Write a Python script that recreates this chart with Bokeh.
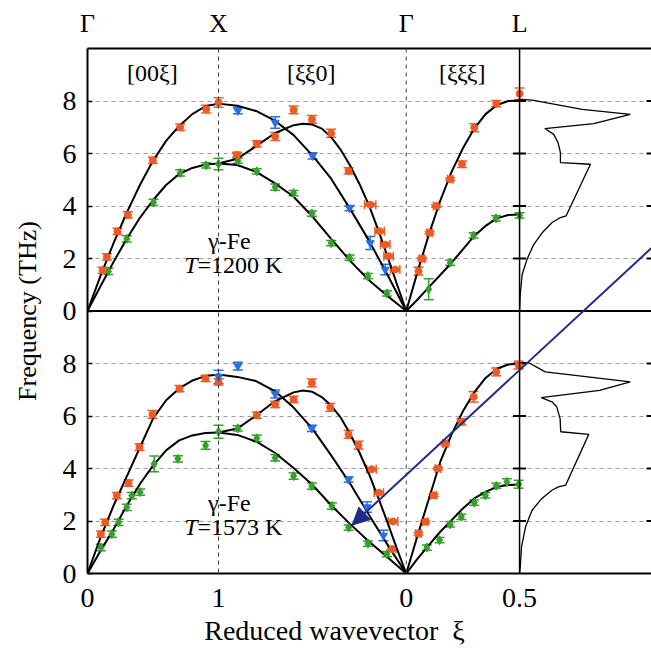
from bokeh.plotting import figure
from bokeh.models import (Range1d, FixedTicker, LinearAxis, ColumnDataSource,
                          Whisker, TeeHead, Span, Label, Arrow, NormalHead)
from bokeh.embed import file_html
from bokeh.resources import INLINE

# ---------------- data ----------------
# reduced-wavevector grids for the model curves
gx_xi = [0.0, 0.1, 0.2, 0.3, 0.4, 0.5, 0.6, 0.7, 0.8, 0.9, 1.0]            # [00ξ]  Γ -> X
kx_xi = [1.0, 0.9, 0.8, 0.7, 0.6, 0.5, 0.4, 0.3, 0.2, 0.1, 0.0]            # [ξξ0]  X -> Γ
kx_xi_fine = [1.0, 0.9, 0.8, 0.7, 0.6, 0.55, 0.5, 0.45, 0.4, 0.35, 0.3,
              0.25, 0.2, 0.15, 0.1, 0.05, 0.0]
gl_xi = [0.0, 0.05, 0.1, 0.15, 0.2, 0.25, 0.3, 0.35, 0.4, 0.45, 0.5]       # [ξξξ] Γ -> L

# ---- T = 1200 K : model curves (THz)
c1200_gx_LA = [0, 1.35, 2.6, 3.75, 4.8, 5.72, 6.48, 7.05, 7.5, 7.8, 7.9]
c1200_gx_TA = [0, 0.95, 1.88, 2.75, 3.55, 4.22, 4.8, 5.22, 5.45, 5.58, 5.62]
c1200_kx_T1 = [7.9, 7.82, 7.62, 7.25, 6.7, 5.93, 5.04, 3.9, 2.7, 1.38, 0]
c1200_kx_L = [5.62, 5.8, 6.28, 6.77, 7.08, 7.13, 7.1, 6.95, 6.62, 6.15, 5.55,
              4.85, 4.05, 3.1, 2.08, 1.03, 0]
c1200_kx_T2 = [5.62, 5.56, 5.3, 4.87, 4.35, 3.6, 2.75, 1.92, 1.18, 0.57, 0]
c1200_gl_LA = [0, 1.5, 2.92, 4.2, 5.3, 6.2, 6.95, 7.5, 7.85, 8.0, 8.02]
c1200_gl_TA = [0, 0.44, 0.91, 1.37, 1.84, 2.35, 2.86, 3.24, 3.53, 3.66, 3.68]

# ---- T = 1200 K : measured points (xi, frequency, freq. error, xi error)
p1200_gx_or_xi = [0.115, 0.148, 0.229, 0.308, 0.499, 0.707, 0.906, 1.0]
p1200_gx_or_f = [1.55, 2.06, 3.03, 3.66, 5.74, 7.00, 7.69, 7.94]
p1200_gx_or_e = [0.12, 0.12, 0.12, 0.12, 0.12, 0.12, 0.15, 0.18]
p1200_gx_gr_xi = [0.16, 0.30, 0.504, 0.707, 0.906, 1.0]
p1200_gx_gr_f = [1.51, 2.75, 4.14, 5.26, 5.55, 5.60]
p1200_gx_gr_e = [0.12, 0.12, 0.12, 0.12, 0.10, 0.22]

p1200_kx_or_xi = [0.902, 0.796, 0.698, 0.600, 0.502, 0.400, 0.307, 0.192, 0.142, 0.112, 0.094, 0.059]
p1200_kx_or_f = [5.95, 6.37, 6.65, 7.66, 7.30, 6.77, 5.34, 4.05, 3.04, 2.53, 2.09, 1.58]
p1200_kx_or_e = [0.10, 0.12, 0.15, 0.15, 0.15, 0.15, 0.12, 0.05, 0.05, 0.05, 0.05, 0.05]
p1200_kx_or_xe = [0, 0, 0, 0, 0, 0, 0, 0.03, 0.025, 0.025, 0.025, 0.025]
p1200_kx_bl_xi = [0.897, 0.698, 0.499, 0.302, 0.192, 0.112]
p1200_kx_bl_f = [7.63, 7.18, 5.91, 3.92, 2.59, 1.58]
p1200_kx_bl_e = [0.12, 0.22, 0.12, 0.10, 0.25, 0.20]
p1200_kx_gr_xi = [0.897, 0.796, 0.698, 0.600, 0.502, 0.400, 0.302, 0.204, 0.103]
p1200_kx_gr_f = [5.73, 5.32, 4.72, 4.49, 3.71, 2.59, 2.03, 1.33, 0.67]
p1200_kx_gr_e = [0.10, 0.10, 0.12, 0.10, 0.10, 0.10, 0.10, 0.10, 0.10]

p1200_gl_or_xi = [0.054, 0.069, 0.103, 0.132, 0.194, 0.246, 0.300, 0.397, 0.500]
p1200_gl_or_f = [1.52, 1.99, 2.98, 4.00, 5.02, 5.59, 6.98, 7.90, 8.28]
p1200_gl_or_e = [0.15, 0.05, 0.05, 0.05, 0.05, 0.12, 0.15, 0.12, 0.22]
p1200_gl_or_xe = [0, 0.012, 0.012, 0.012, 0.012, 0, 0, 0, 0]
p1200_gl_gr_xi = [0.099, 0.194, 0.297, 0.396, 0.500]
p1200_gl_gr_f = [0.83, 1.84, 2.88, 3.53, 3.64]
p1200_gl_gr_e = [0.40, 0.10, 0.10, 0.10, 0.10]

# ---- T = 1573 K : model curves (THz)
c1573_gx_LA = [0, 1.38, 2.6, 3.7, 4.8, 5.9, 6.6, 7.05, 7.35, 7.52, 7.58]
c1573_gx_TA = [0, 0.87, 1.69, 2.59, 3.41, 4.11, 4.69, 5.07, 5.26, 5.35, 5.37]
c1573_kx_T1 = [7.58, 7.49, 7.33, 6.95, 6.32, 5.52, 4.5, 3.44, 2.25, 1.1, 0]
c1573_kx_L = [5.37, 5.52, 6.02, 6.56, 6.9, 6.97, 6.92, 6.72, 6.4, 5.95, 5.33,
              4.62, 3.82, 2.9, 1.95, 0.95, 0]
c1573_kx_T2 = [5.37, 5.28, 5.03, 4.6, 4.02, 3.38, 2.6, 1.89, 1.23, 0.62, 0]
c1573_gl_LA = [0, 1.45, 2.85, 4.25, 5.3, 6.18, 6.9, 7.45, 7.8, 7.96, 8.0]
c1573_gl_TA = [0, 0.57, 1.08, 1.59, 2.03, 2.48, 2.86, 3.11, 3.30, 3.37, 3.39]

# ---- T = 1573 K : measured points
p1573_gx_or_xi = [0.102, 0.135, 0.224, 0.313, 0.397, 0.496, 0.702, 0.901, 1.0]
p1573_gx_or_f = [1.50, 1.95, 2.97, 3.44, 4.82, 6.06, 7.04, 7.43, 7.30]
p1573_gx_or_e = [0.12, 0.12, 0.12, 0.12, 0.12, 0.15, 0.12, 0.12, 0.12]
p1573_gx_bl_xi = [1.0]
p1573_gx_bl_f = [7.49]
p1573_gx_bl_e = [0.25]
p1573_gx_gr_xi = [0.102, 0.186, 0.237, 0.300, 0.338, 0.402, 0.509, 0.690, 0.901, 1.0]
p1573_gx_gr_f = [0.99, 1.50, 1.95, 2.52, 2.97, 3.10, 4.18, 4.37, 4.88, 5.40]
p1573_gx_gr_e = [0.12, 0.12, 0.12, 0.12, 0.12, 0.12, 0.30, 0.12, 0.15, 0.25]

p1573_kx_or_xi = [0.796, 0.698, 0.600, 0.503, 0.405, 0.307, 0.254, 0.185, 0.146, 0.070, 0.075]
p1573_kx_or_f = [6.03, 6.44, 6.63, 7.26, 6.33, 5.30, 4.89, 3.97, 3.08, 1.98, 0.93]
p1573_kx_or_e = [0.12, 0.12, 0.12, 0.15, 0.15, 0.15, 0.15, 0.05, 0.05, 0.05, 0.05]
p1573_kx_or_xe = [0, 0, 0, 0, 0, 0, 0, 0.025, 0.025, 0.025, 0.02]
p1573_kx_bl_xi = [0.897, 0.698, 0.503, 0.307, 0.209, 0.121]
p1573_kx_bl_f = [7.90, 6.84, 5.53, 3.58, 2.53, 1.45]
p1573_kx_bl_e = [0.15, 0.15, 0.12, 0.10, 0.20, 0.20]
p1573_kx_gr_xi = [0.897, 0.796, 0.698, 0.600, 0.503, 0.396, 0.307, 0.204, 0.103]
p1573_kx_gr_f = [5.53, 5.15, 4.41, 3.71, 3.33, 2.57, 1.75, 1.14, 0.74]
p1573_kx_gr_e = [0.10, 0.12, 0.12, 0.12, 0.12, 0.12, 0.10, 0.10, 0.10]

p1573_gl_or_xi = [0.054, 0.084, 0.121, 0.140, 0.172, 0.243, 0.297, 0.397, 0.496]
p1573_gl_or_f = [1.52, 1.97, 2.98, 4.00, 4.95, 5.78, 6.73, 7.68, 7.94]
p1573_gl_or_e = [0.05, 0.05, 0.05, 0.05, 0.05, 0.12, 0.20, 0.15, 0.15]
p1573_gl_or_xe = [0.012, 0.012, 0.012, 0.012, 0.012, 0, 0, 0, 0]
p1573_gl_gr_xi = [0.091, 0.147, 0.194, 0.243, 0.300, 0.349, 0.397, 0.444, 0.496]
p1573_gl_gr_f = [0.99, 1.27, 1.87, 2.16, 2.70, 2.98, 3.34, 3.49, 3.40]
p1573_gl_gr_e = [0.10, 0.10, 0.10, 0.10, 0.10, 0.10, 0.10, 0.12, 0.15]

# ---- phonon density of states (arb. units, peak = 1) vs frequency (THz)
dos1200_g = [0, 0.006, 0.024, 0.069, 0.129, 0.204, 0.294, 0.369, 0.420, 0.640,
             0.369, 0.369, 0.348, 0.309, 0.228, 0.670, 1.0, 0.565, 0.114, 0.006]
dos1200_f = [0, 0.63, 1.40, 1.99, 2.54, 2.98, 3.37, 3.56, 3.62, 5.59,
             5.65, 6.03, 6.41, 6.73, 6.95, 7.14, 7.49, 7.68, 8.03, 8.06]
dos1573_g = [0, 0.006, 0.018, 0.054, 0.113, 0.202, 0.292, 0.351, 0.417, 0.625,
             0.372, 0.366, 0.336, 0.292, 0.196, 0.723, 1.0, 0.232, 0.083, 0.006]
dos1573_f = [0, 0.25, 1.02, 1.78, 2.41, 2.86, 3.17, 3.30, 3.37, 5.30,
             5.40, 5.90, 6.35, 6.54, 6.70, 6.98, 7.30, 7.68, 8.03, 8.03]

# axis tick labels
freq_ticks = [0, 2, 4, 6, 8]
bottom_labels = ["0", "1", "0", "0.5"]
top_labels = ["Γ", "X", "Γ", "L"]

# ---------------- layout constants ----------------
SEG_KX = 1.433        # drawn length of the [ξξ0] segment (Γ-X = 1)
SEG_GL = 0.865        # drawn length of the [ξξξ] segment
S_X = 1.0
S_G2 = 1.0 + SEG_KX
S_L = S_G2 + SEG_GL
X_END = 4.305
DOS_W = 0.845         # DOS peak width in path units
PANEL_OFF = 10.0      # upper panel is shifted up by this in y

ORANGE = "#ee5a24"
BLUE = "#2a6fe0"
GREEN = "#35a02a"
NAVY = "#1c2c88"
FONT = "Liberation Serif"
NB = "\u00a0"


def m_gx(xi):
    return list(xi)


def m_kx(xi):
    return [S_X + (1.0 - v) * SEG_KX for v in xi]


def m_gl(xi):
    return [S_G2 + v / 0.5 * SEG_GL for v in xi]


p = figure(width=651, height=648, output_backend="svg", toolbar_location=None,
           x_range=Range1d(0, X_END), y_range=Range1d(0, 20),
           min_border_left=87, min_border_right=0, min_border_top=48,
           min_border_bottom=75, x_axis_location="below")
p.extra_x_ranges = {"dos": Range1d(-S_L / DOS_W, (X_END - S_L) / DOS_W)}
p.outline_line_color = None
p.background_fill_color = "white"
p.border_fill_color = "white"

# grids
p.xgrid.visible = False
grid_ticks = freq_ticks[1:] + [t + PANEL_OFF for t in freq_ticks[1:]]
p.ygrid[0].ticker = FixedTicker(ticks=grid_ticks)
p.ygrid[0].grid_line_color = "#9a9a9a"
p.ygrid[0].grid_line_dash = "4 4"
p.ygrid[0].grid_line_width = 1

# left axis
yax = p.yaxis[0]
yt = freq_ticks + [t + PANEL_OFF for t in freq_ticks]
yax.ticker = FixedTicker(ticks=yt)
yax.major_label_overrides = {t: str(int(t % PANEL_OFF)) for t in yt}
yax.axis_label = "Frequency (THz)"
yax.axis_label_text_font = FONT
yax.axis_label_text_font_style = "normal"
yax.axis_label_text_font_size = "26px"
yax.axis_label_text_color = "black"
yax.axis_label_standoff = 18
yax.major_label_text_font = FONT
yax.major_label_text_font_size = "28px"
yax.major_label_text_color = "black"
yax.major_label_standoff = 11
yax.major_tick_in = 5
yax.major_tick_out = 0
yax.minor_tick_line_color = None
yax.axis_line_width = 2
yax.major_tick_line_width = 1.5

# bottom axis
xt = [0.0, S_X, S_G2, S_L]
xax = p.xaxis[0]
xax.ticker = FixedTicker(ticks=xt)
xax.major_label_overrides = dict(zip(xt, bottom_labels))
xax.axis_label = "Reduced wavevector" + NB * 2 + "ξ" + NB * 10
xax.axis_label_text_font = FONT
xax.axis_label_text_font_style = "normal"
xax.axis_label_text_font_size = "28px"
xax.axis_label_text_color = "black"
xax.axis_label_standoff = 5
xax.major_label_text_font = FONT
xax.major_label_text_font_size = "28px"
xax.major_label_text_color = "black"
xax.major_label_standoff = 15
xax.major_tick_in = 0
xax.major_tick_out = 0
xax.minor_tick_line_color = None
xax.axis_line_width = 2

# top axis with symmetry points
tax = LinearAxis(ticker=FixedTicker(ticks=xt),
                 major_label_overrides=dict(zip(xt, top_labels)))
tax.major_label_text_font = FONT
tax.major_label_text_font_size = "26px"
tax.major_label_text_color = "black"
tax.major_label_standoff = 11
tax.major_tick_in = 0
tax.major_tick_out = 0
tax.minor_tick_line_color = None
tax.axis_line_width = 2
p.add_layout(tax, "above")

# vertical guide lines
for loc in (S_X, S_G2):
    p.add_layout(Span(location=loc, dimension="height", line_color="#444444",
                      line_width=1, line_dash="4 4"))
p.add_layout(Span(location=S_L, dimension="height", line_color="black", line_width=1.5))
p.add_layout(Span(location=PANEL_OFF, dimension="width", line_color="black", line_width=2))

# small ticks on the L line and at the right edge
tick_y = grid_ticks
p.scatter(x=[S_L] * len(tick_y), y=tick_y, marker="dash", size=13,
          line_color="black", line_width=2)
p.scatter(x=[X_END] * len(tick_y), y=tick_y, marker="dash", size=10,
          line_color="black", line_width=2)


def curve(xs, ys, off):
    p.line(x=xs, y=[v + off for v in ys], line_color="black", line_width=2)


def points(xs, ys, es, off, color, marker, size, xes=None, xscale=1.0):
    yy = [v + off for v in ys]
    src = ColumnDataSource(dict(x=xs, y=yy,
                                lo=[a - e for a, e in zip(yy, es)],
                                hi=[a + e for a, e in zip(yy, es)]))
    p.add_layout(Whisker(source=src, base="x", lower="lo", upper="hi",
                         line_color=color, line_width=1.5,
                         upper_head=TeeHead(size=10, line_color=color, line_width=1.5),
                         lower_head=TeeHead(size=10, line_color=color, line_width=1.5)))
    if xes is not None:
        sel = [i for i, e in enumerate(xes) if e > 0]
        hsrc = ColumnDataSource(dict(
            y=[yy[i] for i in sel],
            lo=[xs[i] - xes[i] * xscale for i in sel],
            hi=[xs[i] + xes[i] * xscale for i in sel]))
        p.add_layout(Whisker(source=hsrc, base="y", lower="lo", upper="hi",
                             dimension="width", line_color=color, line_width=1.5,
                             upper_head=TeeHead(size=9, line_color=color, line_width=1.5),
                             lower_head=TeeHead(size=9, line_color=color, line_width=1.5)))
    p.scatter(x="x", y="y", source=src, marker=marker, size=size,
              fill_color=color, line_color=color)


def panel(off, c_gx_LA, c_gx_TA, c_kx_T1, c_kx_L, c_kx_T2, c_gl_LA, c_gl_TA):
    curve(m_gx(gx_xi), c_gx_LA, off)
    curve(m_gx(gx_xi), c_gx_TA, off)
    curve(m_kx(kx_xi), c_kx_T1, off)
    curve(m_kx(kx_xi_fine), c_kx_L, off)
    curve(m_kx(kx_xi), c_kx_T2, off)
    curve(m_gl(gl_xi), c_gl_LA, off)
    curve(m_gl(gl_xi), c_gl_TA, off)


KX_SC = SEG_KX
GL_SC = SEG_GL / 0.5

# upper panel: 1200 K
panel(PANEL_OFF, c1200_gx_LA, c1200_gx_TA, c1200_kx_T1, c1200_kx_L, c1200_kx_T2,
      c1200_gl_LA, c1200_gl_TA)
points(m_gx(p1200_gx_gr_xi), p1200_gx_gr_f, p1200_gx_gr_e, PANEL_OFF, GREEN, "diamond", 9)
points(m_kx(p1200_kx_gr_xi), p1200_kx_gr_f, p1200_kx_gr_e, PANEL_OFF, GREEN, "diamond", 9)
points(m_gl(p1200_gl_gr_xi), p1200_gl_gr_f, p1200_gl_gr_e, PANEL_OFF, GREEN, "diamond", 9)
points(m_kx(p1200_kx_bl_xi), p1200_kx_bl_f, p1200_kx_bl_e, PANEL_OFF, BLUE, "inverted_triangle", 8)
points(m_gx(p1200_gx_or_xi), p1200_gx_or_f, p1200_gx_or_e, PANEL_OFF, ORANGE, "circle", 7)
points(m_kx(p1200_kx_or_xi), p1200_kx_or_f, p1200_kx_or_e, PANEL_OFF, ORANGE, "circle", 7,
       p1200_kx_or_xe, KX_SC)
points(m_gl(p1200_gl_or_xi), p1200_gl_or_f, p1200_gl_or_e, PANEL_OFF, ORANGE, "circle", 7,
       p1200_gl_or_xe, GL_SC)

# lower panel: 1573 K
panel(0.0, c1573_gx_LA, c1573_gx_TA, c1573_kx_T1, c1573_kx_L, c1573_kx_T2,
      c1573_gl_LA, c1573_gl_TA)
points(m_gx(p1573_gx_gr_xi), p1573_gx_gr_f, p1573_gx_gr_e, 0.0, GREEN, "diamond", 9)
points(m_kx(p1573_kx_gr_xi), p1573_kx_gr_f, p1573_kx_gr_e, 0.0, GREEN, "diamond", 9)
points(m_gl(p1573_gl_gr_xi), p1573_gl_gr_f, p1573_gl_gr_e, 0.0, GREEN, "diamond", 9)
points(m_gx(p1573_gx_or_xi), p1573_gx_or_f, p1573_gx_or_e, 0.0, ORANGE, "circle", 7)
points(m_kx(p1573_kx_or_xi), p1573_kx_or_f, p1573_kx_or_e, 0.0, ORANGE, "circle", 7,
       p1573_kx_or_xe, KX_SC)
points(m_gl(p1573_gl_or_xi), p1573_gl_or_f, p1573_gl_or_e, 0.0, ORANGE, "circle", 7,
       p1573_gl_or_xe, GL_SC)
points(m_gx(p1573_gx_bl_xi), p1573_gx_bl_f, p1573_gx_bl_e, 0.0, BLUE, "inverted_triangle", 8)
points(m_kx(p1573_kx_bl_xi), p1573_kx_bl_f, p1573_kx_bl_e, 0.0, BLUE, "inverted_triangle", 8)

# density of states
p.line(x=dos1200_g, y=[v + PANEL_OFF for v in dos1200_f], x_range_name="dos",
       line_color="black", line_width=1.3)
p.line(x=dos1573_g, y=dos1573_f, x_range_name="dos",
       line_color="black", line_width=1.3)

# direction labels
for txt, xx in (("[00ξ]", m_gx([0.495])[0]), ("[ξξ0]", m_kx([0.506])[0]),
                ("[ξξξ]", m_gl([0.247])[0])):
    p.add_layout(Label(x=xx, y=19.05, text=txt, text_font=FONT, text_font_size="24px",
                       text_color="black", text_align="center", text_baseline="middle"))

# sample labels
for yoff, temp in ((PANEL_OFF, "=1200 K"), (0.0, "=1573 K")):
    p.add_layout(Label(x=1.083, y=2.68 + yoff, text="γ-Fe", text_font=FONT,
                       text_font_size="24px", text_color="black",
                       text_align="center", text_baseline="middle"))
    p.add_layout(Label(x=0.84, y=1.76 + yoff, text="T", text_font=FONT,
                       text_font_style="italic", text_font_size="24px", text_color="black",
                       text_align="right", text_baseline="middle"))
    p.add_layout(Label(x=0.84, y=1.76 + yoff, text=temp, text_font=FONT,
                       text_font_size="24px", text_color="black",
                       text_align="left", text_baseline="middle"))

# arrow annotation
p.add_layout(Arrow(x_start=X_END, y_start=12.40, x_end=2.02, y_end=1.85,
                   line_color=NAVY, line_width=2,
                   end=NormalHead(size=17, fill_color=NAVY, line_color=NAVY)))

open("out.html", "w").write(file_html(p, INLINE))
